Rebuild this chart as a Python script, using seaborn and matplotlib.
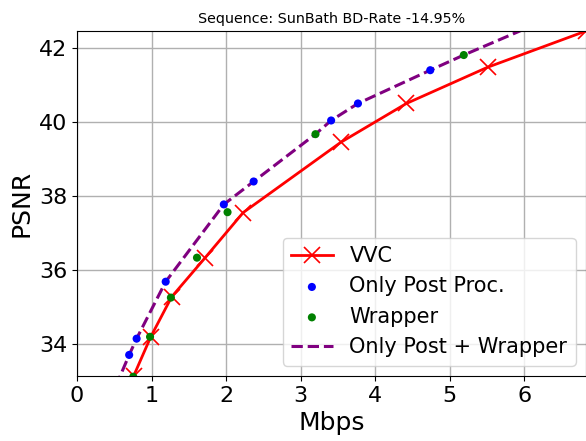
import matplotlib
matplotlib.use("Agg")
import matplotlib.pyplot as plt
import seaborn as sns

# rate (Mbps) / PSNR
vvc_rate = [0.76, 0.99, 1.27, 1.72, 2.23, 3.54, 4.42, 5.51, 6.83]
vvc_psnr = [33.13, 34.19, 35.27, 36.33, 37.55, 39.45, 40.50, 41.48, 42.46]

post_rate = [0.70, 0.80, 1.19, 1.97, 2.37, 3.41, 3.77, 4.74]
post_psnr = [33.70, 34.14, 35.68, 37.77, 38.39, 40.04, 40.50, 41.40]

wrap_rate = [0.755, 0.98, 1.26, 1.61, 2.02, 3.20, 5.19]
wrap_psnr = [33.11, 34.19, 35.25, 36.33, 37.56, 39.67, 41.81]

both_rate = [0.52, 0.70, 0.80, 1.19, 1.97, 2.37, 3.20, 3.41, 3.77, 4.74, 5.19, 6.00]
both_psnr = [32.85, 33.70, 34.14, 35.68, 37.77, 38.39, 39.67, 40.04, 40.50, 41.40, 41.81, 42.51]

fig = plt.figure(figsize=(5.86, 4.41), dpi=100)
ax = fig.add_axes([0.1314, 0.1474, 0.8686, 0.7823])

sns.lineplot(x=vvc_rate, y=vvc_psnr, ax=ax, color="red", lw=2, marker="x",
             markersize=12, markeredgewidth=1.2, markeredgecolor="red",
             label="VVC")
sns.scatterplot(x=post_rate, y=post_psnr, ax=ax, color="blue", s=34,
                edgecolor="none", label="Only Post Proc.", zorder=3)
sns.scatterplot(x=wrap_rate, y=wrap_psnr, ax=ax, color="green", s=34,
                edgecolor="none", label="Wrapper", zorder=3)
sns.lineplot(x=both_rate, y=both_psnr, ax=ax, color="purple", lw=2.2,
             linestyle="--", dashes=(3.5, 2.2), label="Only Post + Wrapper")

ax.set_xlim(0, 6.83)
ax.set_ylim(33.13, 42.46)
ax.set_xticks([0, 1, 2, 3, 4, 5, 6])
ax.set_yticks([34, 36, 38, 40, 42])
ax.grid(True, color="#b0b0b0", lw=1)
ax.set_axisbelow(True)
ax.tick_params(labelsize=16)

ax.set_xlabel("Mbps", fontsize=18)
ax.set_ylabel("PSNR", fontsize=18)
ax.set_title("Sequence: SunBath BD-Rate -14.95%", fontsize=10.3)
ax.legend(loc="lower right", fontsize=15)

plt.savefig("out.png", dpi=100)
